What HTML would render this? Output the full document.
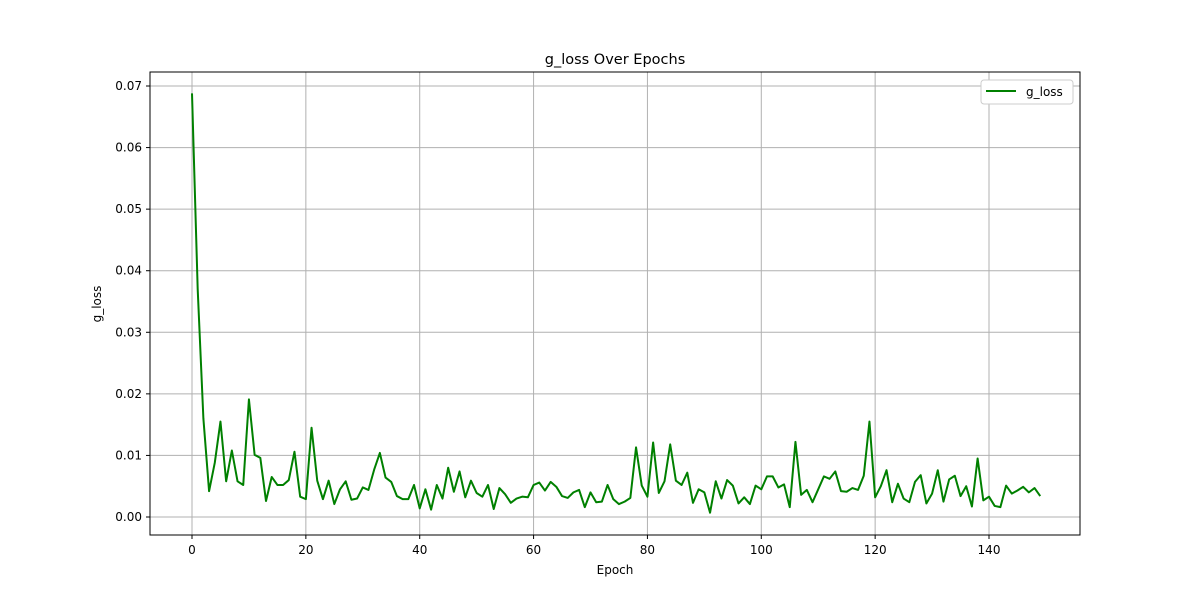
<!DOCTYPE html>
<html><head><meta charset="utf-8"><style>
body{margin:0;background:#fff;font-family:"Liberation Sans","DejaVu Sans",sans-serif}
</style></head><body>
<svg id="chart" width="1200" height="600" xmlns="http://www.w3.org/2000/svg" font-family="DejaVu Sans, Liberation Sans, sans-serif"></svg>
<script>
const epochs = Array.from({length:150},(_, i)=>i);
const gLoss = [0.0688,0.037,0.016,0.0042,0.0088,0.0155,0.0058,0.0108,0.0058,0.0052,0.0191,0.0101,0.0096,0.0026,0.0065,0.0052,0.0052,0.0060,0.0106,0.0033,0.0029,0.0145,0.0059,0.0029,0.0059,0.0021,0.0045,0.0058,0.0028,0.0030,0.0048,0.0044,0.0077,0.0104,0.0064,0.0057,0.0034,0.0029,0.0029,0.0052,0.0014,0.0045,0.0012,0.0052,0.0030,0.0080,0.0041,0.0074,0.0032,0.0059,0.0039,0.0033,0.0052,0.0013,0.0047,0.0037,0.0023,0.0030,0.0033,0.0032,0.0052,0.0056,0.0043,0.0057,0.0049,0.0034,0.0031,0.0040,0.0044,0.0016,0.0040,0.0024,0.0025,0.0052,0.0029,0.0021,0.0025,0.0031,0.0113,0.0051,0.0033,0.0121,0.0039,0.0058,0.0118,0.0059,0.0052,0.0072,0.0023,0.0045,0.0040,0.0007,0.0058,0.0030,0.0060,0.0051,0.0022,0.0032,0.0021,0.0051,0.0045,0.0066,0.0066,0.0048,0.0053,0.0016,0.0122,0.0036,0.0044,0.0024,0.0045,0.0066,0.0062,0.0074,0.0042,0.0041,0.0047,0.0044,0.0067,0.0155,0.0032,0.0050,0.0076,0.0024,0.0054,0.0030,0.0024,0.0057,0.0068,0.0022,0.0038,0.0076,0.0025,0.0061,0.0067,0.0034,0.0050,0.0017,0.0095,0.0027,0.0033,0.0018,0.0016,0.0051,0.0038,0.0043,0.0049,0.0040,0.0047,0.0034];
const xTicks = [0,20,40,60,80,100,120,140];
const yTicks = [0,0.01,0.02,0.03,0.04,0.05,0.06,0.07];
const yTickLabels = ["0.00","0.01","0.02","0.03","0.04","0.05","0.06","0.07"];

const L=150,R=1080,T=72,B=535;
const x = v => 192 + v*(989-192)/140;
const y = v => 517 - v*(517-86)/0.07;
const svg = document.getElementById('chart');
const NS='http://www.w3.org/2000/svg';
function el(tag, attrs, parent){const e=document.createElementNS(NS,tag);for(const k in attrs)e.setAttribute(k,attrs[k]);(parent||svg).appendChild(e);return e;}

const grid = el('g',{});


xTicks.forEach(t=>{el('line',{x1:x(t),x2:x(t),y1:T,y2:B,stroke:'#b0b0b0','stroke-width':1},grid);});
yTicks.forEach(t=>{el('line',{x1:L,x2:R,y1:y(t),y2:y(t),stroke:'#b0b0b0','stroke-width':1},grid);});

const xAxis = el('g',{});


xTicks.forEach(t=>{
  el('line',{x1:x(t),x2:x(t),y1:B,y2:B+4,stroke:'#000'},xAxis);
  const tx=el('text',{x:x(t),y:B+19,'text-anchor':'middle','font-size':12},xAxis);tx.textContent=t;
});
const yAxis = el('g',{});


yTicks.forEach((t,i)=>{
  el('line',{x1:L-4,x2:L,y1:y(t),y2:y(t),stroke:'#000'},yAxis);
  const tx=el('text',{x:L-8,y:y(t)+4,'text-anchor':'end','font-size':12},yAxis);tx.textContent=yTickLabels[i];
});

const line = el('polyline',{points:gLoss.map((v,i)=>x(epochs[i])+','+y(v)).join(' '),fill:'none',stroke:'#008000','stroke-width':2,'stroke-linejoin':'round'});



const frame = el('rect',{x:L,y:T,width:R-L,height:B-T,fill:'none',stroke:'#000','stroke-width':1});



const title = el('text',{x:615,y:64,'text-anchor':'middle','font-size':14.5});
title.textContent='g_loss Over Epochs';


const xl = el('text',{x:615,y:574,'text-anchor':'middle','font-size':12});
xl.textContent='Epoch';


const yl = el('text',{x:0,y:0,'text-anchor':'middle','font-size':12,transform:'translate(101,304) rotate(-90)'});
yl.textContent='g_loss';



const lg = el('g',{});


el('rect',{x:981,y:80,width:92,height:24,rx:3,fill:'#fff',stroke:'#ccc'},lg);
el('line',{x1:986,x2:1016,y1:91,y2:91,stroke:'#008000','stroke-width':2},lg);
const lt=el('text',{x:1026,y:96,'font-size':12},lg);lt.textContent='g_loss';
</script>
</body></html>
